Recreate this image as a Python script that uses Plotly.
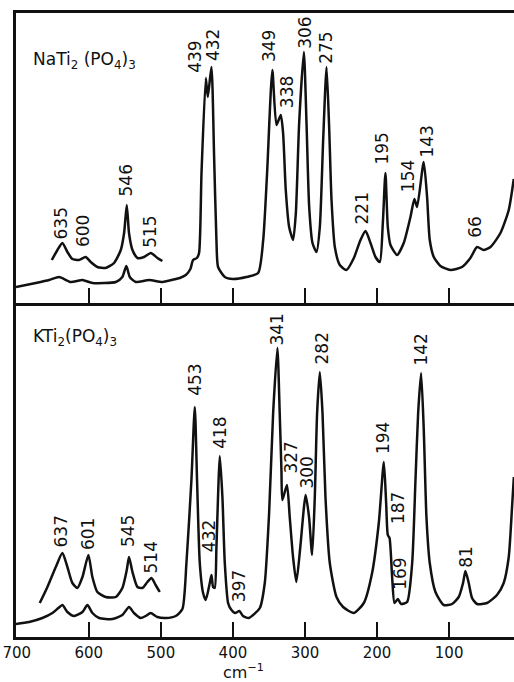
import plotly.graph_objects as go

# ---------------- data (wavenumber cm-1, intensity a.u.) ----------------
na_main_wn = [701, 673.5, 655, 641.2, 625, 608.8, 594.9, 562.5, 553.4, 547.9, 543.1, 534.8,
              516.3, 497.9, 479.4, 473.7, 465.4, 459, 455.3, 450, 447, 443.6, 437.6, 434.9,
              429.8, 426.1, 422.9, 420.6, 411.3, 400, 381.3, 365, 358, 352.6, 345.3, 339.6,
              333.6, 330.4, 326.7, 322, 316.5, 312.7, 308.1, 301.6, 297.9, 294.2, 289.6, 284,
              279.4, 274.8, 270.1, 266.5, 263.2, 258.6, 251.7, 242.5, 232.2, 223, 216, 209.1,
              202.2, 196.2, 192, 188.4, 185.1, 181.4, 172.2, 163, 153.7, 148.2, 144.5, 135.3,
              130.6, 126.9, 121.3, 112.1, 98.2, 82.1, 70.5, 61.3, 52.2, 42.6, 28.8, 17.3, 10.3]
na_main_int = [16, 20, 23, 26, 21, 23, 20, 21, 26, 37, 26, 21,
               23, 21, 24, 25, 28, 34, 43, 45, 50, 130, 225, 206,
               236, 146, 63, 36, 26, 24, 26, 30, 63, 130, 233, 178,
               188, 170, 113, 76, 63, 90, 180, 251, 180, 96, 60, 51,
               76, 163, 236, 176, 103, 56, 38, 33, 45, 63, 72, 60,
               46, 41, 80, 130, 76, 58, 48, 60, 86, 104, 96, 141,
               106, 63, 46, 37, 33, 36, 45, 56, 53, 56, 70, 93, 124]

na_inset_wn = [651.3, 643.5, 636.6, 629.7, 622.8, 613.6, 604.4, 597.4, 588.1, 576.6, 565,
               555.6, 551, 547.3, 544.2, 539.4, 532.5, 523.3, 514, 504.8, 497.9]
na_inset_int = [43, 53, 60, 51, 44, 43, 46, 41, 36, 35, 40,
                53, 70, 98, 70, 53, 45, 46, 50, 45, 42]

k_main_wn = [701, 682.8, 664.4, 650.5, 642.2, 636.6, 629.7, 620.4, 608.8, 601.9, 595, 585.7,
             567.2, 553.4, 544.2, 537.3, 528, 521.1, 514.2, 504.8, 493.3, 479.4, 470.1, 464.5,
             457.6, 452.9, 449.8, 446, 441.4, 437.7, 432.1, 429.8, 427.5, 425.2, 422.9, 418.2,
             414.6, 411.3, 406.7, 403, 397, 391, 386, 378, 362.7, 355.8, 349.8, 344.2, 338.3,
             335.1, 332.7, 331.4, 325, 321.2, 316.6, 312, 306.5, 299.1, 294.4, 290.1, 286.4,
             283.2, 279.4, 275.7, 271.6, 265.6, 256.3, 247.1, 232.3, 218.4, 206.9, 197.6, 190.6,
             187.4, 185.1, 182.7, 179.1, 175.8, 171.2, 166.6, 158.3, 151.3, 146.7, 143, 138.9,
             135.2, 131.5, 126.9, 119, 107.5, 96, 86.7, 80.7, 77.4, 72.8, 68.2, 61.3, 47.4,
             33.6, 24.3, 17.3, 12.7, 10.2]
k_main_int = [13, 15, 19, 24, 29, 32, 25, 21, 25, 32, 24, 19,
              18, 22, 30, 24, 19, 21, 24, 20, 19, 21, 28, 74,
              157, 230, 157, 74, 44, 37, 54, 62, 50, 49, 90, 181,
              140, 74, 34, 28, 24, 26, 21, 19, 29, 54, 124, 224, 289,
              224, 167, 137, 152, 120, 80, 55, 90, 142, 120, 82, 140,
              224, 265, 224, 140, 74, 40, 30, 24, 34, 64, 114, 175,
              134, 102, 99, 60, 34, 38, 33, 35, 74, 157, 224, 264,
              207, 120, 74, 45, 32, 33, 40, 54, 66, 54, 39, 33, 34,
              42, 54, 80, 130, 160]

k_inset_wn = [668, 657.4, 645.8, 636.6, 629.7, 622.8, 615.8, 608.8, 600.5, 595, 588.1, 576.6,
              562.5, 553.4, 547.3, 544.2, 539.4, 532.5, 525.6, 518.7, 513.1, 507.2, 501.6]
k_inset_int = [34, 50, 70, 84, 70, 54, 49, 60, 82, 60, 45, 40,
               40, 49, 67, 80, 65, 50, 49, 55, 59, 52, 45]

na_peak_labels = ["635", "600", "546", "515", "439", "432", "349", "338", "306", "275",
                  "221", "195", "154", "143", "66"]
k_peak_labels = ["637", "601", "545", "514", "453", "432", "418", "397", "341", "327",
                 "300", "282", "194", "187", "169", "142", "81"]
tick_values = [700, 600, 500, 400, 300, 200, 100]
tick_labels = ["700", "600", "500", "400", "300", "200", "100"]

# ---------------- label placement (layout) ----------------
na_label_pos = [(637.9, 80), (607.9, 72), (547.7, 123), (515.3, 71), (452.9, 246), (427.5, 258),
                (349.8, 257), (324.8, 211), (300.3, 270), (271.1, 255), (221.6, 94), (193.8, 154),
                (156.9, 127), (131.4, 161), (64.3, 76)]
k_label_pos = [(637.9, 106), (601, 103), (545.5, 106), (513, 80), (452.9, 257), (433, 101),
               (418.2, 204), (391.4, 51), (339.5, 307), (320, 179), (297.9, 164), (277.1, 288),
               (191.6, 199), (170.8, 129), (168.4, 63), (139.7, 287), (76.8, 80)]

FONT = "DejaVu Sans"
INK = "#111111"

fig = go.Figure()
line = dict(color=INK, width=2.5, shape="spline", smoothing=0.6)
fig.add_trace(go.Scatter(x=na_main_wn, y=na_main_int, mode="lines", line=line, xaxis="x2", yaxis="y2"))
fig.add_trace(go.Scatter(x=na_inset_wn, y=na_inset_int, mode="lines", line=line, xaxis="x2", yaxis="y2"))
fig.add_trace(go.Scatter(x=k_main_wn, y=k_main_int, mode="lines", line=line, xaxis="x", yaxis="y"))
fig.add_trace(go.Scatter(x=k_inset_wn, y=k_inset_int, mode="lines", line=line, xaxis="x", yaxis="y"))

annotations = []
for txt, (x, y) in zip(na_peak_labels, na_label_pos):
    annotations.append(dict(x=x, y=y, xref="x2", yref="y2", text=txt, textangle=-90,
                            showarrow=False, font=dict(family=FONT, size=17, color=INK)))
for txt, (x, y) in zip(k_peak_labels, k_label_pos):
    annotations.append(dict(x=x, y=y, xref="x", yref="y", text=txt, textangle=-90,
                            showarrow=False, font=dict(family=FONT, size=17, color=INK)))
annotations.append(dict(x=680.5, y=243, xref="x2", yref="y2", xanchor="left", yanchor="middle",
                        text="NaTi<sub>2</sub> (PO<sub>4</sub>)<sub>3</sub>", showarrow=False,
                        font=dict(family=FONT, size=17, color=INK)))
annotations.append(dict(x=680.5, y=300, xref="x", yref="y", xanchor="left", yanchor="middle",
                        text="KTi<sub>2</sub>(PO<sub>4</sub>)<sub>3</sub>", showarrow=False,
                        font=dict(family=FONT, size=17, color=INK)))
annotations.append(dict(x=386, y=-0.055, xref="x", yref="paper", xanchor="center", yanchor="middle",
                        text="cm<sup>−1</sup>", showarrow=False,
                        font=dict(family=FONT, size=16, color=INK)))

split = 334 / 624
xr = [701, 10]
fig.update_layout(
    width=514, height=682, autosize=False,
    margin=dict(l=16, r=0, t=13, b=45),
    paper_bgcolor="white", plot_bgcolor="white",
    showlegend=False,
    annotations=annotations,
    xaxis=dict(range=xr, domain=[0, 1], anchor="y", showline=True, linewidth=2.5, linecolor=INK,
               ticks="inside", ticklen=15, tickwidth=2, tickcolor=INK,
               tickvals=tick_values, ticktext=tick_labels, showgrid=False, zeroline=False,
               tickfont=dict(family=FONT, size=15, color=INK)),
    yaxis=dict(range=[0, 334], domain=[0, split], anchor="x", showline=True, linewidth=2.5,
               linecolor=INK, showticklabels=False, ticks="", showgrid=False, zeroline=False),
    xaxis2=dict(range=xr, domain=[0, 1], anchor="y2", showline=True, linewidth=2.5, linecolor=INK,
                mirror=True, ticks="inside", ticklen=15, tickwidth=2, tickcolor=INK,
                tickvals=tick_values[1:], showticklabels=False, showgrid=False, zeroline=False),
    yaxis2=dict(range=[0, 290], domain=[split, 1], anchor="x2", showline=True, linewidth=2.5,
                linecolor=INK, showticklabels=False, ticks="", showgrid=False, zeroline=False),
)

fig.write_html("out.html")
